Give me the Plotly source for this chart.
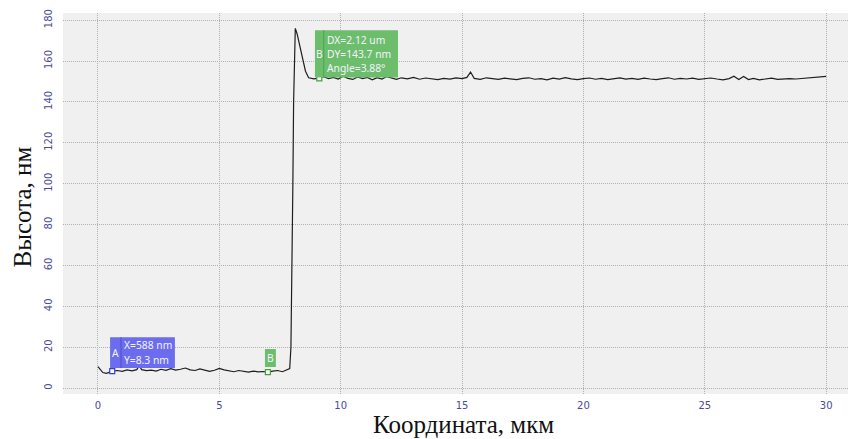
import plotly.graph_objects as go

# Height profile across the step (x in µm, height in nm)
x_base = [0.0, 0.1, 0.2, 0.35, 0.5, 0.6, 0.8, 1.0, 1.2, 1.4, 1.6, 1.7, 1.8, 2.0, 2.2,
          2.4, 2.6, 2.8, 3.0, 3.2, 3.4, 3.6, 3.8, 4.0, 4.2, 4.4, 4.6, 4.8, 5.0, 5.2,
          5.4, 5.6, 5.8, 6.0, 6.2, 6.4, 6.6, 6.8, 7.0, 7.2, 7.4, 7.6, 7.8]
y_base = [10.5, 9.0, 7.6, 7.2, 8.0, 8.3, 8.6, 8.2, 8.9, 8.4, 9.0, 11.0, 9.0, 8.5, 8.8,
          8.3, 9.2, 8.7, 9.5, 8.8, 9.2, 9.8, 8.9, 8.6, 9.4, 8.8, 8.2, 8.7, 9.6, 8.9,
          8.3, 8.0, 8.6, 8.2, 7.8, 8.3, 7.9, 8.1, 7.8, 8.3, 8.6, 8.0, 8.8]

x_step = [7.9, 7.95, 8.0, 8.03, 8.06, 8.09, 8.13, 8.2, 8.3, 8.42, 8.55, 8.68]
y_step = [9.5, 20.0, 60.0, 100.0, 140.0, 165.0, 176.0, 173.5, 168.0, 161.0, 155.0, 151.8]

x_top = [8.9, 9.1, 9.3, 9.5, 9.7, 9.9, 10.1, 10.3, 10.5, 10.7, 10.9, 11.1, 11.3, 11.5,
         11.7, 11.9, 12.1, 12.3, 12.5, 12.75, 13.0, 13.25, 13.5, 13.75, 14.0, 14.25,
         14.5, 14.75, 15.0, 15.2, 15.35, 15.5, 15.75, 16.0, 16.25, 16.5, 16.75, 17.0,
         17.25, 17.5, 17.75, 18.0, 18.25, 18.5, 18.75, 19.0, 19.25, 19.5, 19.75, 20.0,
         20.25, 20.5, 20.75, 21.0, 21.25, 21.5, 21.75, 22.0, 22.25, 22.5, 22.75, 23.0,
         23.25, 23.5, 23.75, 24.0, 24.25, 24.5, 24.75, 25.0, 25.25, 25.5, 25.75, 26.0,
         26.2, 26.4, 26.6, 26.8, 27.0, 27.25, 27.5, 27.75, 28.0, 28.25, 28.5, 28.75,
         29.0, 29.25, 29.5, 29.75, 30.0]
y_top = [151.3, 151.6, 152.3, 151.4, 152.0, 151.2, 152.6, 151.5, 151.0, 152.2, 151.4,
         152.0, 150.8, 151.9, 151.2, 152.4, 151.6, 151.0, 151.8, 151.3, 152.0, 151.1,
         151.7, 151.3, 150.9, 151.5, 151.2, 151.8, 151.4, 152.0, 154.6, 151.5, 151.0,
         151.8, 151.3, 151.0, 151.6, 151.2, 150.9, 151.5, 151.8, 151.1, 151.4, 150.8,
         151.6, 151.2, 151.9, 151.3, 150.9, 151.4, 151.7, 151.1, 151.5, 150.9, 151.3,
         151.8, 151.2, 151.5, 151.0, 151.6, 151.2, 150.9, 151.4, 151.8, 151.1, 151.5,
         151.2, 151.6, 151.0, 151.3, 151.7, 151.2, 150.8, 151.4, 152.6, 151.0, 152.4,
         150.9, 151.5, 150.8, 151.2, 151.6, 151.0, 151.3, 151.4, 151.2, 151.5, 151.6,
         151.9, 152.3, 152.5]

profile_x = x_base + x_step + x_top
profile_y = y_base + y_step + y_top

# Cursor points
cursor_a = (0.588, 8.3)
cursor_b1 = (7.0, 7.8)
cursor_b2 = (9.12, 151.5)

x_ticks = [0, 5, 10, 15, 20, 25, 30]
y_ticks = [0, 20, 40, 60, 80, 100, 120, 140, 160, 180]

BLUE = "#6c6cee"
GREEN = "#6cbd6c"
TICK_COLOR = "#4a4a9c"
BOX_FONT = dict(family="Noto Sans, DejaVu Sans", size=10.3, color="#f4f4ff")
TITLE_FONT = dict(family="Liberation Serif, Times New Roman, serif", size=25, color="#111")
GRID = dict(showgrid=True, gridcolor="#b0b0b0", griddash="1px,1px", gridwidth=1,
            zeroline=False, showline=False, ticks="")

fig = go.Figure()
fig.add_trace(go.Scatter(x=profile_x, y=profile_y, mode="lines",
                         line=dict(color="#1e1e1e", width=1.2), hoverinfo="skip"))

# Cursor A label box
fig.add_shape(type="rect", x0=0.5, x1=3.17, y0=9.8, y1=24.9,
              fillcolor=BLUE, line=dict(width=0), layer="above")
fig.add_shape(type="line", x0=0.95, x1=0.95, y0=9.8, y1=24.9,
              line=dict(color="#5050c8", width=1), layer="above")
fig.add_annotation(x=0.72, y=17.3, text="A", showarrow=False, font=BOX_FONT)
fig.add_annotation(x=1.0, y=21.1, text="X=588 nm", xanchor="left", showarrow=False, font=BOX_FONT)
fig.add_annotation(x=1.0, y=13.7, text="Y=8.3 nm", xanchor="left", showarrow=False, font=BOX_FONT)

# Small B label at first B cursor
fig.add_shape(type="rect", x0=6.88, x1=7.33, y0=10.3, y1=19.1,
              fillcolor=GREEN, line=dict(width=0), layer="above")
fig.add_annotation(x=7.1, y=14.7, text="B", showarrow=False, font=BOX_FONT)

# B measurement box
fig.add_shape(type="rect", x0=8.94, x1=12.36, y0=151.9, y1=175.1,
              fillcolor=GREEN, line=dict(width=0), layer="above")
fig.add_shape(type="line", x0=9.3, x1=9.3, y0=151.9, y1=175.1,
              line=dict(color="#4fa44f", width=1), layer="above")
fig.add_annotation(x=9.12, y=163.5, text="B", showarrow=False, font=BOX_FONT)
fig.add_annotation(x=9.36, y=170.3, text="DX=2.12 um", xanchor="left", showarrow=False, font=BOX_FONT)
fig.add_annotation(x=9.36, y=163.5, text="DY=143.7 nm", xanchor="left", showarrow=False, font=BOX_FONT)
fig.add_annotation(x=9.36, y=156.6, text="Angle=3.88°", xanchor="left", showarrow=False, font=BOX_FONT)

# Cursor markers
fig.add_trace(go.Scatter(x=[cursor_a[0]], y=[cursor_a[1]], mode="markers",
                         marker=dict(symbol="square", size=5, color="white",
                                     line=dict(color="#3a3ad0", width=1.2)), hoverinfo="skip"))
fig.add_trace(go.Scatter(x=[cursor_b1[0], cursor_b2[0]], y=[cursor_b1[1], cursor_b2[1]],
                         mode="markers",
                         marker=dict(symbol="square", size=5, color="white",
                                     line=dict(color="#3f9f3f", width=1.2)), hoverinfo="skip"))

# Axis titles
fig.add_annotation(xref="paper", yref="paper", x=0.51, y=-0.079, yanchor="middle",
                   text="Координата, мкм", showarrow=False, font=TITLE_FONT)
fig.add_annotation(xref="paper", yref="paper", x=-0.052, y=0.49, xanchor="center",
                   text="Высота, нм", textangle=-90, showarrow=False, font=TITLE_FONT)

fig.update_layout(
    width=855, height=439,
    margin=dict(l=63, r=7, t=13, b=45),
    paper_bgcolor="white",
    plot_bgcolor="#f0f0f0",
    showlegend=False,
    xaxis=dict(range=[-1.44, 30.9], tickvals=x_ticks, ticktext=[str(v) for v in x_ticks],
               ticklabelstandoff=4,
               tickfont=dict(family="DejaVu Sans", size=10, color=TICK_COLOR), **GRID),
    yaxis=dict(range=[-2.9, 183.5], tickvals=y_ticks, ticktext=[str(v) for v in y_ticks],
               tickangle=-90, ticklabelstandoff=8,
               tickfont=dict(family="DejaVu Sans", size=10, color=TICK_COLOR), **GRID),
)

fig.write_html("out.html")
